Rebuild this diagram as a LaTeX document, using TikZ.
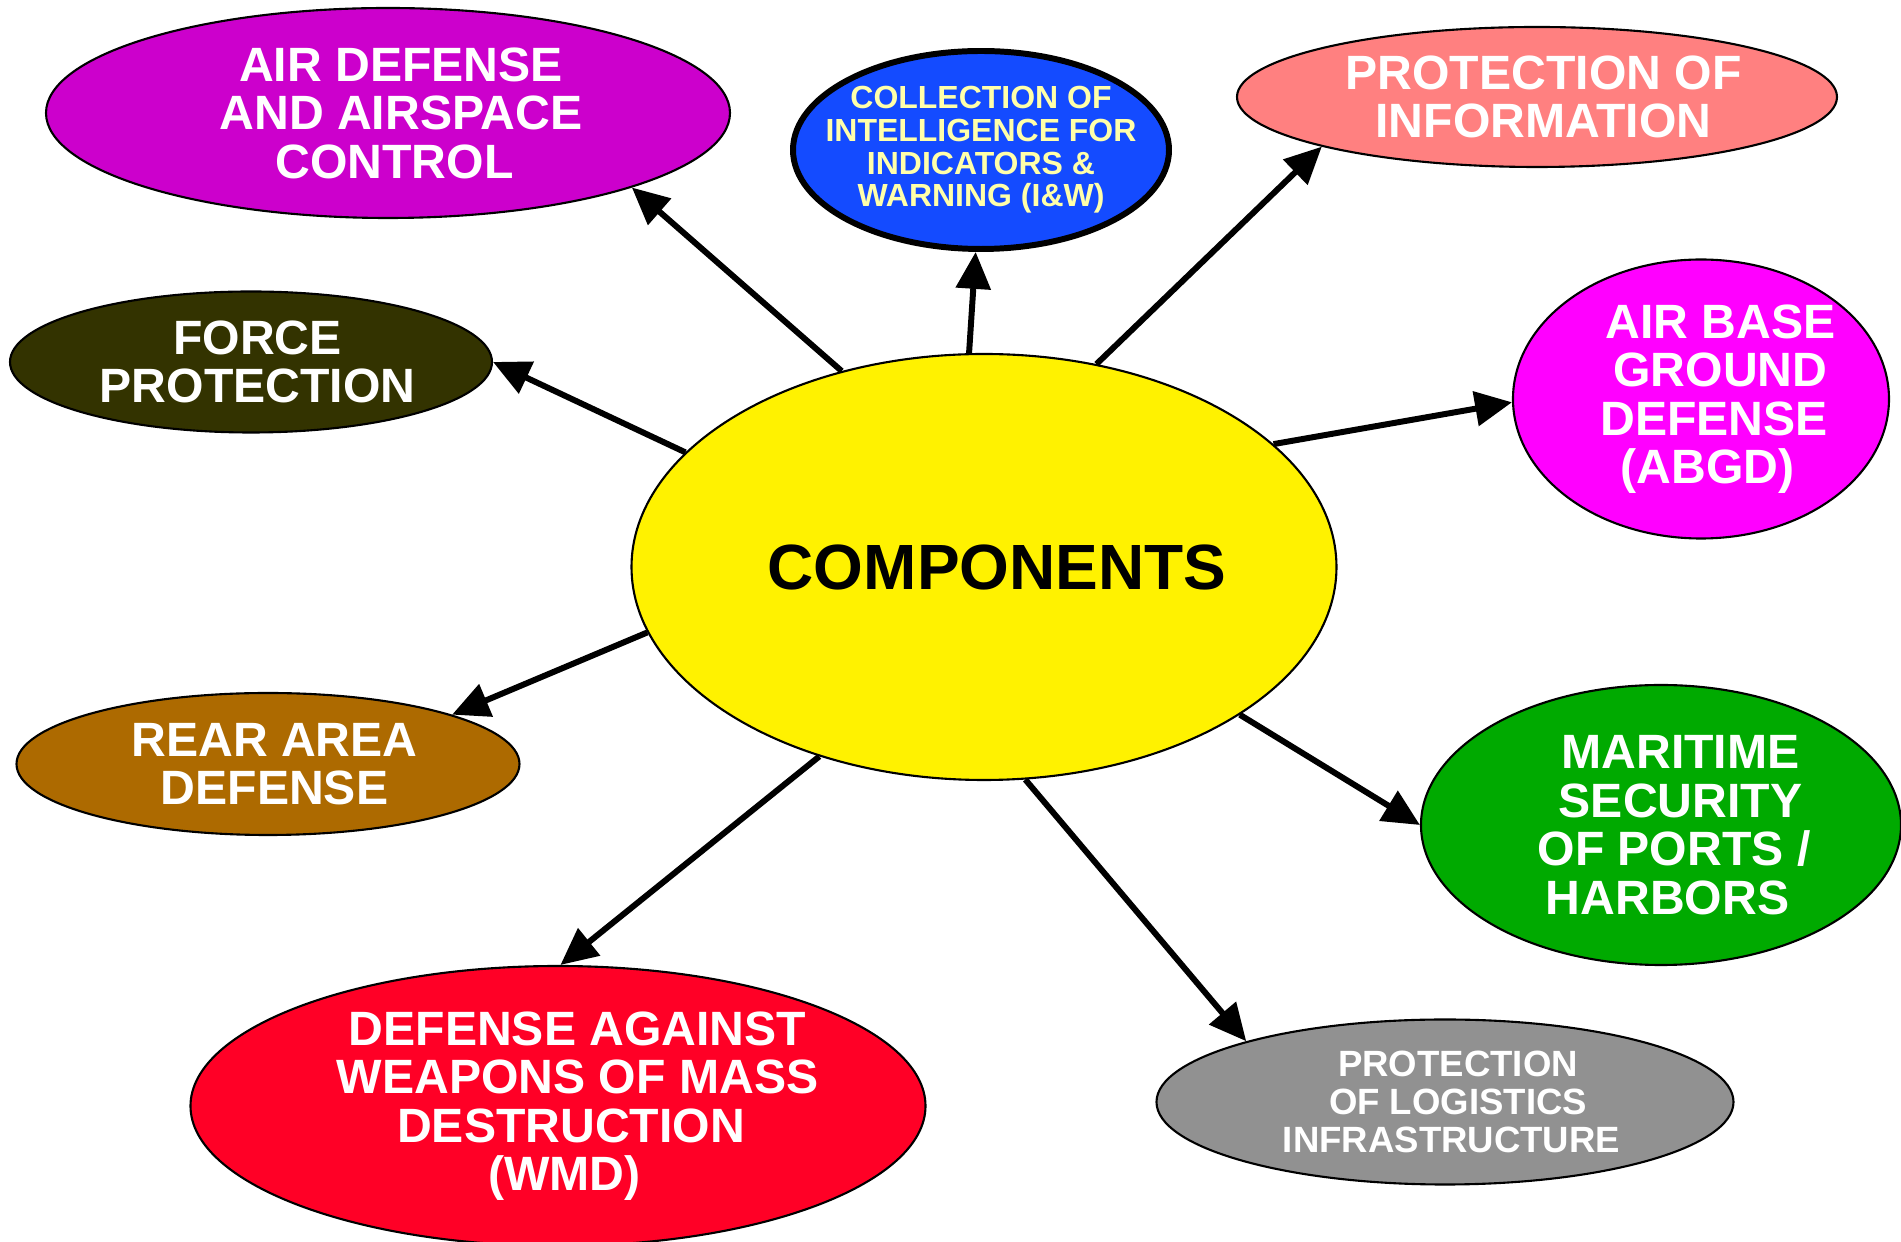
\documentclass[tikz,border=0pt]{standalone}
\usepackage{fontspec}
\setmainfont{Liberation Sans}
\usetikzlibrary{shapes.geometric,arrows.meta}

\definecolor{airdefcol}{RGB}{204,0,204}
\definecolor{intelcol}{RGB}{20,75,255}
\definecolor{inteltext}{RGB}{255,255,170}
\definecolor{infocol}{RGB}{255,128,128}
\definecolor{forcecol}{RGB}{51,51,0}
\definecolor{abgdcol}{RGB}{255,0,255}
\definecolor{rearcol}{RGB}{173,106,0}
\definecolor{portcol}{RGB}{0,170,0}
\definecolor{wmdcol}{RGB}{255,0,38}
\definecolor{logcol}{RGB}{145,145,145}

% text sits a little right of the ellipse centre
\def\blobheader{\hskip0.13cm\hfil##\hfil\cr}

\tikzset{
  blob/.style={ellipse, draw, line width=0.6pt, inner sep=0pt, inner xsep=-0.3cm, align=center,
    node halign header=\blobheader,
    text=white, font=\bfseries\fontsize{13.7}{13.8}\selectfont},
  link/.style={line width=1.7pt, -{Triangle[length=10.5pt,width=9.7pt]}}
}

\begin{document}
\begin{tikzpicture}
\useasboundingbox (0,0) rectangle (19.01,-12.42);

% centre
\node[blob, fill=yellow, text=black, minimum width=7.05cm, minimum height=4.26cm,
  font=\bfseries\fontsize{18.2}{20}\selectfont] (comp) at (9.84,-5.67) {\hspace*{0.26cm}COMPONENTS};

% components round it
\node[blob, fill=airdefcol, minimum width=6.84cm, minimum height=2.10cm] (airdef) at (3.88,-1.13) {AIR DEFENSE\\AND AIRSPACE\\CONTROL};
\node[blob, align=center, fill=intelcol, text=inteltext, line width=1.7pt, inner xsep=-0.4cm, minimum width=3.76cm, minimum height=1.98cm,
  font=\bfseries\fontsize{9.1}{9.3}\selectfont] (intel) at (9.81,-1.50) {COLLECTION OF\\INTELLIGENCE FOR\\INDICATORS \&\\WARNING (I\&W)};
\node[blob, fill=infocol, minimum width=6.00cm, minimum height=1.40cm] (infoprot) at (15.37,-0.97) {PROTECTION OF\\INFORMATION};
\node[blob, fill=forcecol, minimum width=4.82cm, minimum height=1.41cm] (forceprot) at (2.51,-3.62) {FORCE\\PROTECTION};
\node[blob, fill=abgdcol, minimum width=3.76cm, minimum height=2.79cm] (abgd) at (17.01,-3.99) {AIR BASE\\GROUND\\DEFENSE\\(ABGD)};
\node[blob, fill=rearcol, minimum width=5.03cm, minimum height=1.42cm] (reararea) at (2.68,-7.64) {REAR AREA\\DEFENSE};
\node[blob, fill=portcol, minimum width=4.80cm, minimum height=2.80cm] (maritime) at (16.61,-8.25) {MARITIME\\SECURITY\\OF PORTS /\\HARBORS};
\node[blob, fill=wmdcol, minimum width=7.35cm, minimum height=2.80cm] (wmd) at (5.58,-11.06) {DEFENSE AGAINST\\WEAPONS OF MASS\\DESTRUCTION\\(WMD)};
\node[blob, fill=logcol, minimum width=5.77cm, minimum height=1.65cm,
  font=\bfseries\fontsize{10.4}{10.7}\selectfont] (logistics) at (14.45,-11.02) {PROTECTION\\OF LOGISTICS\\INFRASTRUCTURE};

% arrows out of the centre
\draw[link] (comp.126) -- (airdef.-17);
\draw[link] (comp.94) -- (intel.-93);
\draw[link] (comp.61) -- (infoprot.193);
\draw[link] (comp.159) -- (forceprot.0);
\draw[link] (comp.23) -- (abgd.181);
\draw[link] (comp.191) -- (reararea.15);
\draw[link] (comp.-30) -- (maritime.180);
\draw[link] (comp.229) -- (wmd.89);
\draw[link] (comp.-79) -- (logistics.163);

\end{tikzpicture}
\end{document}
